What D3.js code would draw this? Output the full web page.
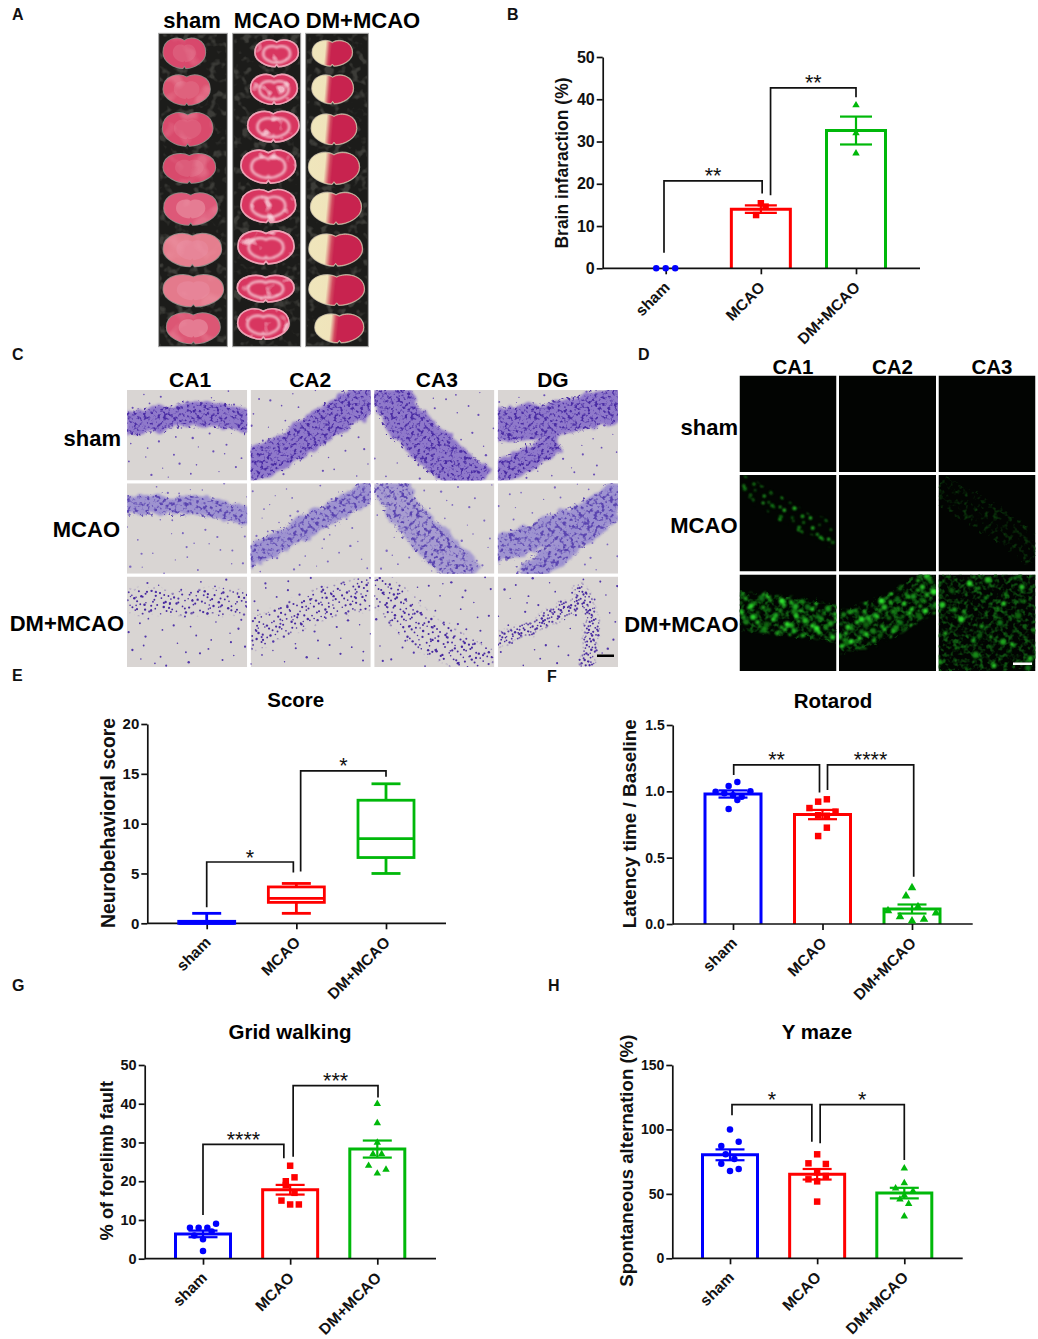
<!DOCTYPE html>
<html>
<head>
<meta charset="utf-8">
<script src="https://cdn.jsdelivr.net/npm/d3@7"></script>
<style>
	body { margin: 0; background: #fff; }
	svg { display: block; font-family: 'Liberation Sans', Arial, sans-serif; font-weight: bold; }
</style>
</head>
<body>
<div id="chart"></div>
<script>
const groups = ['sham', 'MCAO', 'DM+MCAO'];
const groupColors = ['#0000ff', '#ff0000', '#00b80a'];
const regionsHisto = ['CA1', 'CA2', 'CA3', 'DG'];
const regionsFluoro = ['CA1', 'CA2', 'CA3'];

// B - brain infarction, each group is a list of swarm rows (left to right)
const infarctMeans = [0, 14, 32.6];
const infarctSem = [0, 0.9, 3.3];
const infarctPoints = [[[0, 0, 0]], [[15.4], [12.6, 14.6]], [[38.6], [32], [27.2]]];
const infarctTicks = [0, 10, 20, 30, 40, 50];

// E - neurobehavioral score box plots
const scoreMin = [0, 1, 5];
const scoreQ1 = [0, 2.1, 6.6];
const scoreMedian = [0, 2.5, 8.5];
const scoreQ3 = [0.2, 3.65, 12.35];
const scoreMax = [1, 4, 14];
const scoreTicks = [0, 5, 10, 15, 20];

// F - rotarod
const rotarodMeans = [0.98, 0.825, 0.113];
const rotarodSem = [0.027, 0.035, 0.034];
const rotarodPoints = [
	[[1.04, 1.07], [0.997, 0.985, 0.97, 0.96, 1.0], [0.867, 0.935]],
	[[0.922, 0.94], [0.874, 0.82, 0.816, 0.847], [0.663, 0.726]],
	[[0.274], [0.211, 0.13], [0.1, 0.055, 0.023, 0.035, 0.083]],
];
const rotarodTicks = [0, 0.5, 1, 1.5];

// G - grid walking
const gridMeans = [6.4, 17.8, 28.3];
const gridSem = [0.85, 1.25, 2.2];
const gridPoints = [
	[[8, 8, 8, 9], [6, 5, 7], [2]],
	[[24], [20, 21], [19, 17], [15, 14, 14]],
	[[40], [35], [30], [27, 27], [24, 22, 23]],
];
const gridTicks = [0, 10, 20, 30, 40, 50];

// H - Y maze
const mazeMeans = [80.3, 65.2, 50.6];
const mazeSem = [4.2, 4.1, 4.1];
const mazePoints = [
	[[100], [87.2, null, 90.5], [80.7, 77], [73.4, 67.8, 69.3]],
	[[80.7], [73.7, null, 73.2], [66.7], [61.3, 59.7, 63.9], [44]],
	[[69.8], [58.4], [54.3, 48.9, 52.2], [45.8, 42.2], [32.6]],
];
const mazeTicks = [0, 50, 100, 150];

const sliceCy = [
	[160, 270, 388, 505, 627, 750, 872, 985],
	[160, 268, 380, 500, 618, 742, 866, 972],
	[160, 268, 388, 505, 625, 750, 870, 985],
];
const sliceCx = [
	[553, 560, 563, 568, 572, 577, 580, 580],
	[830, 822, 820, 805, 805, 798, 797, 790],
	[997, 998, 1002, 1002, 1008, 1007, 1010, 1018],
];
const sliceRx = [
	[63, 70, 75, 78, 80, 87, 90, 80],
	[65, 70, 77, 82, 82, 84, 85, 77],
	[60, 62, 68, 76, 76, 80, 83, 73],
];
const sliceRy = [
	[47, 47, 52, 46, 50, 52, 50, 48],
	[42, 47, 48, 52, 52, 52, 42, 48],
	[40, 45, 48, 50, 50, 50, 48, 45],
];
const shamSliceColors = ['#d8486c', '#dc5270', '#d94a6c', '#d84a6c', '#dd5878', '#e57e8e', '#e47a8c', '#dc5674'];
const stripEdges = [[476, 682], [698, 902], [917, 1105]];

// C - cell layers in each histology tile, local 0-120 x 0-90, [thickness, points]
const histoBands = [
	[[[23, [[-5, 34], [30, 30], [60, 23], [90, 24], [125, 32]]]],
		[[32, [[-5, 78], [30, 62], [60, 44], [90, 24], [125, 2]]]],
		[[40, [[15, -5], [25, 25], [50, 50], [80, 76], [105, 95]]]],
		[[34, [[-5, 36], [40, 32], [80, 24], [125, 12]]], [22, [[-5, 84], [30, 70], [60, 50]]]]],
	[[[18, [[-5, 22], [40, 21], [80, 22], [125, 34]]]],
		[[21, [[-5, 76], [40, 52], [80, 30], [125, 4]]]],
		[[34, [[15, -5], [30, 30], [55, 55], [85, 85], [95, 95]]]],
		[[26, [[-5, 68], [40, 52], [80, 36], [125, 10]]], [24, [[25, 95], [70, 62], [115, 25]]]]],
	[[[24, [[-5, 26], [30, 24], [60, 28], [90, 24], [125, 26]]]],
		[[30, [[-5, 62], [40, 40], [80, 24], [125, 14]]]],
		[[34, [[-5, 0], [25, 30], [50, 60], [100, 80], [115, 92]]]],
		[[13, [[-5, 66], [30, 52], [60, 38], [85, 22]]], [13, [[80, 8], [96, 40], [93, 70], [88, 95]]]]],
];
const histoHeaderShift = [3, -0.5, 2.5, -5];

// D - positive cell layers in the fluorescence tiles, local 0-97 x 0-97
const fluoroBands = [
	[[], [], []],
	[[[20, [[-5, 5], [30, 25], [60, 45], [100, 65]]]], [], [[30, [[0, 15], [40, 35], [70, 55], [100, 80]]]]],
	[[[38, [[-5, 36], [30, 40], [60, 42], [100, 50]]]], [[40, [[-5, 62], [30, 50], [65, 35], [100, 10]]]], [[95, [[-10, 48], [110, 48]]]]],
];

const width = 1038;
const height = 1339;

const svg = d3.select('#chart').append('svg').attr('width', width).attr('height', height).attr('viewBox', [0, 0, width, height]);
const defs = svg.append('defs');

// noise textures stand in for the photographs
function noiseFilter(id, freq, octaves, color, gain, offset, blur, rough) {
	const rgb = d3.rgb(color);
	const f = defs.append('filter').attr('id', id).attr('filterUnits', 'userSpaceOnUse').attr('x', 0).attr('y', 0).attr('width', width * 3).attr('height', height * 3).attr('color-interpolation-filters', 'sRGB');
	f.append('feTurbulence').attr('type', 'fractalNoise').attr('baseFrequency', freq).attr('numOctaves', octaves).attr('seed', 7).attr('result', 'noise');
	f.append('feColorMatrix').attr('in', 'noise').attr('type', 'matrix')
		.attr('values', `0 0 0 0 ${rgb.r / 255} 0 0 0 0 ${rgb.g / 255} 0 0 0 0 ${rgb.b / 255} ${gain} 0 0 0 ${offset}`).attr('result', 'tint');
	let shape = 'SourceAlpha';
	if (rough) {
		f.append('feDisplacementMap').attr('in', 'SourceAlpha').attr('in2', 'noise').attr('scale', rough).attr('xChannelSelector', 'R').attr('yChannelSelector', 'G').attr('result', 'shape');
		shape = 'shape';
	}
	f.append('feComposite').attr('in', 'tint').attr('in2', shape).attr('operator', 'in').attr('result', 'cut');
	if (blur) f.append('feGaussianBlur').attr('in', 'cut').attr('stdDeviation', blur);
}
// the band itself with a frayed, soft edge
function roughFilter(id, freq, scale, blur) {
	const f = defs.append('filter').attr('id', id).attr('filterUnits', 'userSpaceOnUse').attr('x', 0).attr('y', 0).attr('width', width * 3).attr('height', height * 3).attr('color-interpolation-filters', 'sRGB');
	f.append('feTurbulence').attr('type', 'fractalNoise').attr('baseFrequency', freq).attr('numOctaves', 2).attr('seed', 3).attr('result', 'noise');
	f.append('feDisplacementMap').attr('in', 'SourceGraphic').attr('in2', 'noise').attr('scale', scale).attr('xChannelSelector', 'R').attr('yChannelSelector', 'G').attr('result', 'moved');
	f.append('feGaussianBlur').attr('in', 'moved').attr('stdDeviation', blur);
}
noiseFilter('cellClumps', 0.3, 2, '#4a2ca4', 5, -2.5, 0.5, 14);
noiseFilter('cellClumpsPale', 0.26, 2, '#5a44b0', 5, -2.5, 0.6, 14);
noiseFilter('greenFaint', 0.2, 2, '#0f5a12', 3.5, -1.6, 0.6, 12);
noiseFilter('greenTrace', 0.2, 2, '#0b3a0c', 3.5, -1.8, 0.6, 12);
noiseFilter('sliceSwirl', 0.024, 2, '#fbdfe6', 6, -3.55, 1.6);
noiseFilter('slicePale', 0.016, 2, '#f0a0b0', 5, -2.6, 2);
noiseFilter('stripGrain', 0.04, 2, '#3c3c38', 5, -2.6, 1);
roughFilter('frayed', 0.1, 10, 0.9);
defs.append('filter').attr('id', 'soft').append('feGaussianBlur').attr('stdDeviation', 1.6);
defs.append('filter').attr('id', 'swirlBlur').append('feGaussianBlur').attr('stdDeviation', 3);
defs.append('filter').attr('id', 'glow').attr('x', -0.1).attr('y', -0.1).attr('width', 1.2).attr('height', 1.2).append('feGaussianBlur').attr('stdDeviation', 1);

// cream infarct on the left, red tissue on the right
const halfGrad = defs.append('linearGradient').attr('id', 'halfSlice').attr('x1', 0).attr('x2', 1).attr('y1', 0).attr('y2', 0.06);
[[0, '#efe6bc'], [0.34, '#f0e4bb'], [0.44, '#d24a60'], [0.5, '#c8234f'], [1, '#c8234f']].forEach((s) => {
	halfGrad.append('stop').attr('offset', s[0]).attr('stop-color', s[1]);
});

const labelFont = 22;

// low discrepancy sequence, only used to scatter the texture dots in the photo tiles
function halton(i, base) {
	let f = 1;
	let r = 0;
	while (i > 0) {
		f /= base;
		r += f * (i % base);
		i = Math.floor(i / base);
	}
	return r;
}

function dotField(g, n, start, w, h, rMin, rMax, fill) {
	d3.range(start, start + n).forEach((i) => {
		g.append('circle')
			.attr('cx', halton(i, 2) * w)
			.attr('cy', halton(i, 3) * h)
			.attr('r', rMin + (rMax - rMin) * halton(i, 5))
			.attr('fill', typeof fill === 'function' ? fill(i) : fill);
	});
}

function bandMask(id, bands, w, h) {
	const m = defs.append('mask').attr('id', id).attr('maskUnits', 'userSpaceOnUse').attr('x', 0).attr('y', 0).attr('width', w).attr('height', h);
	drawBands(m, bands, '#fff', 1, 'url(#frayed)');
}

function drawHeader(text, x, y, size) {
	svg.append('text').attr('x', x).attr('y', y).attr('text-anchor', 'middle').attr('font-size', size).attr('fill', '#000').text(text);
}

function drawLetter(text, x, y) {
	svg.append('text').attr('x', x).attr('y', y).attr('font-size', 16).attr('fill', '#111').text(text);
}

function brainPath(cx, cy, rx, ry) {
	const p = d3.path();
	p.moveTo(cx, cy - 0.8 * ry);
	p.bezierCurveTo(cx + 0.3 * rx, cy - 1.1 * ry, cx + rx, cy - 0.95 * ry, cx + rx, cy - 0.05 * ry);
	p.bezierCurveTo(cx + rx, cy + 0.55 * ry, cx + 0.45 * rx, cy + 0.95 * ry, cx + 0.08 * rx, cy + 0.95 * ry);
	p.lineTo(cx, cy + 0.8 * ry);
	p.lineTo(cx - 0.08 * rx, cy + 0.95 * ry);
	p.bezierCurveTo(cx - 0.45 * rx, cy + 0.95 * ry, cx - rx, cy + 0.55 * ry, cx - rx, cy - 0.05 * ry);
	p.bezierCurveTo(cx - rx, cy - 0.95 * ry, cx - 0.3 * rx, cy - 1.1 * ry, cx, cy - 0.8 * ry);
	p.closePath();
	return p.toString();
}

// panel A, drawn in crop units
function drawStrips() {
	const g = svg.append('g').attr('transform', 'scale(0.33333)');
	stripEdges.forEach((edge, s) => {
		g.append('rect').attr('x', edge[0]).attr('y', 100).attr('width', edge[1] - edge[0]).attr('height', 940)
			.attr('fill', '#1c1c1a').attr('stroke', '#a8a8a8').attr('stroke-width', 3);
		g.append('rect').attr('x', edge[0] + 3).attr('y', 103).attr('width', edge[1] - edge[0] - 6).attr('height', 934).attr('fill', '#000').attr('filter', 'url(#stripGrain)');
		sliceCy[s].forEach((cy, i) => {
			const cx = sliceCx[s][i];
			const rx = sliceRx[s][i];
			const ry = sliceRy[s][i];
			const d = brainPath(cx, cy, rx, ry);
			const tissue = g.append('g');
			tissue.append('path').attr('d', d).attr('fill', '#8f8a86').attr('stroke', '#8f8a86').attr('stroke-width', 5).attr('filter', 'url(#soft)');
			if (s === 0) {
				tissue.append('path').attr('d', d).attr('fill', shamSliceColors[i]);
				tissue.append('path').attr('d', brainPath(cx, cy, rx * 0.55, ry * 0.6)).attr('fill', '#e8889c').attr('opacity', i > 3 ? 0.75 : 0.3).attr('filter', 'url(#soft)');
				tissue.append('path').attr('d', d).attr('fill', '#000').attr('opacity', 0.35).attr('filter', 'url(#slicePale)');
			} else if (s === 1) {
				tissue.append('path').attr('d', d).attr('fill', '#d83660');
				tissue.append('path').attr('d', brainPath(cx, cy + 3, rx * 0.62, ry * 0.62)).attr('fill', 'none').attr('stroke', '#f8d6de')
					.attr('stroke-width', 8).attr('opacity', 0.8).attr('filter', 'url(#swirlBlur)');
				tissue.append('path').attr('d', d).attr('fill', '#000').attr('opacity', 0.75).attr('filter', 'url(#sliceSwirl)');
				tissue.append('path').attr('d', d).attr('fill', 'none').attr('stroke', '#eea0b4').attr('stroke-width', 5);
			} else {
				tissue.append('path').attr('d', d).attr('fill', 'url(#halfSlice)').attr('stroke', '#e6d8b0').attr('stroke-width', 2);
			}
		});
	});
}

const bandLine = d3.line().curve(d3.curveBasis);

function drawBands(g, bands, color, opacity, filter) {
	bands.forEach((band) => {
		g.append('path').attr('d', bandLine(band[1])).attr('fill', 'none').attr('stroke', color)
			.attr('stroke-width', band[0]).attr('stroke-linecap', 'butt').attr('opacity', opacity).attr('filter', filter || null);
	});
}

function drawHisto() {
	const x = d3.scaleBand().domain(regionsHisto).range([127, 618]).paddingInner(0.028);
	const y = d3.scaleBand().domain(groups).range([390, 667]).paddingInner(0.03);
	groups.forEach((group, r) => {
		regionsHisto.forEach((region, c) => {
			const tile = r * 4 + c;
			const clipId = `histo-${r}-${c}`;
			defs.append('clipPath').attr('id', clipId).append('rect').attr('width', x.bandwidth()).attr('height', y.bandwidth());
			const wrap = svg.append('g').attr('transform', `translate(${x(region)},${y(group)})`).attr('clip-path', `url(#${clipId})`);
			const g = wrap.append('g').attr('transform', `scale(${x.bandwidth() / 120},${y.bandwidth() / 90})`);
			g.append('rect').attr('width', 120).attr('height', 90).attr('fill', '#d9d5d3');
			const bands = histoBands[r][c];
			if (r === 2) {
				dotField(g, 50, 11 + tile * 53, 120, 90, 0.7, 1.2, '#5236aa');
				const maskId = `histoMask-${c}`;
				bandMask(maskId, bands, 120, 90);
				dotField(g.append('g').attr('mask', `url(#${maskId})`), c === 3 ? 900 : 420, 700 + tile * 211, 120, 90, 0.75, 1.25, '#47299f');
			} else {
				dotField(g, 42, 11 + tile * 53, 120, 90, 0.6, 1.2, r === 0 ? '#6a4fb6' : '#7d68c0');
				if (r === 0) {
					drawBands(g, bands, '#8c74ca', 0.95, 'url(#frayed)');
					drawBands(g, bands, '#000', 1, 'url(#cellClumps)');
				} else {
					drawBands(g, bands, '#9a8ed0', c === 2 ? 0.8 : 0.92, 'url(#frayed)');
					drawBands(g, bands, '#000', 1, 'url(#cellClumpsPale)');
				}
			}
		});
	});
	svg.append('rect').attr('x', 597).attr('y', 654.5).attr('width', 17).attr('height', 2.5).attr('fill', '#000');
	regionsHisto.forEach((region, c) => drawHeader(region, x(region) + x.bandwidth() / 2 + histoHeaderShift[c], 387, 21));
}

function drawFluoro() {
	const x = d3.scaleBand().domain(regionsFluoro).range([739.5, 1035.5]).paddingInner(0.025);
	const y = d3.scaleBand().domain(groups).range([375.5, 671]).paddingInner(0.03);
	const size = x.bandwidth();
	const green = (i) => d3.interpolateRgb('#0a5c0e', '#2fe62f')(halton(i, 7));
	groups.forEach((group, r) => {
		regionsFluoro.forEach((region, c) => {
			const tile = r * 3 + c;
			const clipId = `fluoro-${r}-${c}`;
			defs.append('clipPath').attr('id', clipId).append('rect').attr('width', size).attr('height', y.bandwidth());
			const g = svg.append('g').attr('transform', `translate(${x(region)},${y(group)})`).attr('clip-path', `url(#${clipId})`);
			g.append('rect').attr('width', size).attr('height', y.bandwidth()).attr('fill', '#020402');
			const bands = fluoroBands[r][c];
			if (r === 2) {
				drawBands(g, bands, '#000', 1, 'url(#greenFaint)');
				const maskId = `fluoroMask-${c}`;
				bandMask(maskId, bands, size, y.bandwidth());
				const cells = g.append('g').attr('mask', `url(#${maskId})`).append('g').attr('filter', 'url(#glow)');
				if (c === 2) {
					dotField(cells, 34, 301 + tile * 97, size, y.bandwidth(), 1.3, 3.4, green);
				} else {
					dotField(cells, 165, 301 + tile * 97, size, y.bandwidth(), 1.4, 3.2, green);
				}
			} else if (r === 1 && c === 0) {
				const maskId = 'fluoroMask-mcao';
				bandMask(maskId, bands, size, y.bandwidth());
				const cells = g.append('g').attr('mask', `url(#${maskId})`).append('g').attr('filter', 'url(#glow)');
				dotField(cells, 150, 301 + tile * 97, size, y.bandwidth(), 1, 2, green);
			} else {
				drawBands(g, bands, '#000', 1, 'url(#greenTrace)');
			}
		});
	});
	svg.append('rect').attr('x', 1013).attr('y', 662.5).attr('width', 19).attr('height', 2.5).attr('fill', '#fff');
	regionsFluoro.forEach((region) => drawHeader(region, x(region) + size / 2 + 5, 374, 20.5));
}

function drawAxes(p, y) {
	const x = d3.scalePoint().domain(groups).range(p.centers);
	const yAxis = svg.append('g').attr('transform', `translate(${p.x0},0)`)
		.call(d3.axisLeft(y).tickValues(p.ticks).tickSize(6).tickSizeOuter(0).tickPadding(2).tickFormat(p.format || d3.format('d')));
	yAxis.selectAll('text').attr('font-size', p.tickFont).attr('fill', '#111');
	const xAxis = svg.append('g').attr('transform', `translate(0,${y(0)})`)
		.call(d3.axisBottom(x).tickSize(6).tickSizeOuter(0));
	xAxis.select('.domain').attr('d', `M${p.x0},0H${p.x1}`);
	xAxis.selectAll('text').attr('font-size', 15.5).attr('fill', '#111').attr('text-anchor', 'end')
		.attr('x', 0).attr('y', 0).attr('dy', 0).attr('transform', 'translate(4.5,20) rotate(-45)');
	svg.selectAll('.domain, .tick line').attr('stroke', '#111').attr('stroke-width', 1.7);

	svg.append('text').attr('transform', `translate(${p.titleX},${p.titleY}) rotate(-90)`).attr('text-anchor', 'middle')
		.attr('font-size', p.titleFont).attr('fill', '#111').text(p.yTitle);
	if (p.title) drawHeader(p.title, p.titleCx, p.titleBase, 20.5);
}

function drawBrackets(p, y) {
	const x = d3.scalePoint().domain(groups).range(p.centers);
	p.brackets.forEach((b) => {
		const xa = x(groups[b.from]) + b.dxFrom;
		const xb = x(groups[b.to]) + b.dxTo;
		const path = d3.path();
		path.moveTo(xa, y(b.endFrom));
		path.lineTo(xa, y(b.top));
		path.lineTo(xb, y(b.top));
		path.lineTo(xb, y(b.endTo));
		svg.append('path').attr('d', path.toString()).attr('fill', 'none').attr('stroke', '#111').attr('stroke-width', 1.7);
		svg.append('text').attr('x', (xa + xb) / 2).attr('y', y(b.top) + 2.5).attr('text-anchor', 'middle')
			.attr('font-size', 21.5).attr('font-weight', 'normal').attr('fill', '#111').text(b.label);
	});
}

function drawBarPanel(p) {
	const x = d3.scalePoint().domain(groups).range(p.centers);
	const y = d3.scaleLinear().domain([0, p.ticks[p.ticks.length - 1]]).range([p.yBottom, p.yTop]);
	const symbols = [d3.symbolCircle, d3.symbolSquare, d3.symbolTriangle];
	const barWidth = p.barWidth;

	// bars are open at the bottom, the axis closes them
	svg.append('g').selectAll('path').data(groups.filter((d, i) => p.means[i] > 0)).join('path')
		.attr('d', (d) => {
			const m = p.means[groups.indexOf(d)];
			const path = d3.path();
			path.moveTo(x(d) - barWidth / 2, y(0));
			path.lineTo(x(d) - barWidth / 2, y(m));
			path.lineTo(x(d) + barWidth / 2, y(m));
			path.lineTo(x(d) + barWidth / 2, y(0));
			return path.toString();
		})
		.attr('fill', 'none')
		.attr('stroke', (d) => groupColors[groups.indexOf(d)])
		.attr('stroke-width', 3);

	drawAxes(p, y);

	groups.forEach((group, i) => {
		const color = groupColors[i];
		const g = svg.append('g').attr('fill', color);
		const symbolPath = d3.symbol().type(symbols[i]).size(p.symbolSizes[i]);
		p.points[i].forEach((row) => {
			row.forEach((v, k) => {
				if (v === null) return;
				const off = (k - (row.length - 1) / 2) * p.gaps[i];
				g.append('path').attr('d', symbolPath()).attr('transform', `translate(${x(group) + off},${y(v)})`);
			});
		});
		if (p.sem[i] > 0) {
			const e = svg.append('g').attr('stroke', color).attr('stroke-width', 2.2);
			e.append('line').attr('x1', x(group)).attr('x2', x(group)).attr('y1', y(p.means[i] - p.sem[i])).attr('y2', y(p.means[i] + p.sem[i]));
			[p.means[i] - p.sem[i], p.means[i] + p.sem[i]].forEach((v) => {
				e.append('line').attr('x1', x(group) - p.capWidth / 2).attr('x2', x(group) + p.capWidth / 2).attr('y1', y(v)).attr('y2', y(v));
			});
		}
	});
	drawBrackets(p, y);
}

function drawBoxPanel(p) {
	const x = d3.scalePoint().domain(groups).range(p.centers);
	const y = d3.scaleLinear().domain([0, p.ticks[p.ticks.length - 1]]).range([p.yBottom, p.yTop]);
	drawAxes(p, y);
	groups.forEach((group, i) => {
		const cx = x(group);
		const g = svg.append('g').attr('stroke', groupColors[i]).attr('stroke-width', 2.8).attr('fill', 'none');
		g.append('line').attr('x1', cx).attr('x2', cx).attr('y1', y(scoreMin[i])).attr('y2', y(scoreQ1[i]));
		g.append('line').attr('x1', cx).attr('x2', cx).attr('y1', y(scoreMax[i])).attr('y2', y(scoreQ3[i]));
		[scoreMin[i], scoreMax[i]].forEach((v) => {
			if (v === 0) return;
			g.append('line').attr('x1', cx - p.capWidth / 2).attr('x2', cx + p.capWidth / 2).attr('y1', y(v)).attr('y2', y(v));
		});
		g.append('rect').attr('x', cx - p.barWidth / 2).attr('y', y(scoreQ3[i])).attr('width', p.barWidth)
			.attr('height', y(scoreQ1[i]) - y(scoreQ3[i]));
		g.append('line').attr('x1', cx - p.barWidth / 2).attr('x2', cx + p.barWidth / 2).attr('y1', y(scoreMedian[i])).attr('y2', y(scoreMedian[i]));
	});
	drawBrackets(p, y);
}

drawStrips();
drawHisto();
drawFluoro();

drawHeader('sham', 192, 27.5, 22);
drawHeader('MCAO', 267, 27.5, 21.7);
drawHeader('DM+MCAO', 363, 27.5, labelFont);

[['sham', 121, 446], ['MCAO', 120, 537], ['DM+MCAO', 124, 631]].forEach((d) => {
	svg.append('text').attr('x', d[1]).attr('y', d[2]).attr('text-anchor', 'end').attr('font-size', labelFont).text(d[0]);
});
[['sham', 738, 435], ['MCAO', 737.5, 533], ['DM+MCAO', 738.5, 632]].forEach((d) => {
	svg.append('text').attr('x', d[1]).attr('y', d[2]).attr('text-anchor', 'end').attr('font-size', labelFont).text(d[0]);
});

[['A', 12, 20], ['B', 507, 20], ['C', 12, 360], ['D', 638, 360], ['E', 12, 681], ['F', 547, 682], ['G', 12, 991], ['H', 548, 991]].forEach((d) => drawLetter(d[0], d[1], d[2]));

drawBarPanel({
	x0: 602.7, x1: 920, yBottom: 268.3, yTop: 57, centers: [665.7, 856], ticks: infarctTicks, tickFont: 16,
	means: infarctMeans, sem: infarctSem, points: infarctPoints, barWidth: 59, capWidth: 32,
	symbolSizes: [33, 42, 24], gaps: [9.5, 9.5, 9.5],
	yTitle: 'Brain infaraction (%)', titleX: 568, titleY: 163, titleFont: 17.5,
	brackets: [
		{ from: 0, to: 1, top: 20.7, endFrom: 3.7, endTo: 17.7, dxFrom: -1.7, dxTo: 1.3, label: '**' },
		{ from: 1, to: 2, top: 42.7, endFrom: 17.3, endTo: 40.5, dxFrom: 9.7, dxTo: 0, label: '**' },
	],
});

drawBoxPanel({
	x0: 147.3, x1: 446, yBottom: 923.3, yTop: 724, centers: [206.7, 386], ticks: scoreTicks, tickFont: 15,
	barWidth: 56, capWidth: 29,
	yTitle: 'Neurobehavioral score', titleX: 115, titleY: 823, titleFont: 19.4,
	title: 'Score', titleCx: 295.7, titleBase: 707,
	brackets: [
		{ from: 0, to: 1, top: 6.15, endFrom: 1.6, endTo: 5.1, dxFrom: 0, dxTo: -3, label: '*' },
		{ from: 1, to: 2, top: 15.3, endFrom: 5.2, endTo: 14.7, dxFrom: 4.3, dxTo: 0, label: '*' },
	],
});

drawBarPanel({
	x0: 672.7, x1: 972.7, yBottom: 924, yTop: 725, centers: [733, 912], ticks: rotarodTicks, tickFont: 14,
	format: d3.format('.1f'),
	means: rotarodMeans, sem: rotarodSem, points: rotarodPoints, barWidth: 56, capWidth: 29,
	symbolSizes: [33, 42, 32], gaps: [8.7, 8.7, 12],
	yTitle: 'Latency time / Baseline', titleX: 636, titleY: 823.7, titleFont: 18.9,
	title: 'Rotarod', titleCx: 833, titleBase: 708,
	brackets: [
		{ from: 0, to: 1, top: 1.2, endFrom: 1.123, endTo: 0.992, dxFrom: 0.7, dxTo: -3, label: '**' },
		{ from: 1, to: 2, top: 1.2, endFrom: 1.01, endTo: 0.357, dxFrom: 5, dxTo: 1.7, label: '****' },
	],
});

drawBarPanel({
	x0: 144.7, x1: 436, yBottom: 1258.7, yTop: 1065, centers: [203, 377.3], ticks: gridTicks, tickFont: 14.5,
	means: gridMeans, sem: gridSem, points: gridPoints, barWidth: 55, capWidth: 29,
	symbolSizes: [33, 42, 24], gaps: [8.7, 8.7, 8.7],
	yTitle: '% of forelimb fault', titleX: 112.7, titleY: 1160.7, titleFont: 18.3,
	title: 'Grid walking', titleCx: 290, titleBase: 1039,
	brackets: [
		{ from: 0, to: 1, top: 29.5, endFrom: 11.3, endTo: 25.9, dxFrom: 0, dxTo: -6.3, label: '****' },
		{ from: 1, to: 2, top: 44.7, endFrom: 26.3, endTo: 41.6, dxFrom: 3, dxTo: 0.7, label: '***' },
	],
});

drawBarPanel({
	x0: 672.3, x1: 962.7, yBottom: 1258.3, yTop: 1065, centers: [730, 904.3], ticks: mazeTicks, tickFont: 14,
	means: mazeMeans, sem: mazeSem, points: mazePoints, barWidth: 55, capWidth: 29,
	symbolSizes: [33, 42, 24], gaps: [8.7, 8.7, 8.7],
	yTitle: 'Spontaneous alternation (%)', titleX: 633, titleY: 1160.7, titleFont: 18.6,
	title: 'Y maze', titleCx: 817, titleBase: 1039,
	brackets: [
		{ from: 0, to: 1, top: 119.2, endFrom: 111, endTo: 90.5, dxFrom: 2, dxTo: -5.3, label: '*' },
		{ from: 1, to: 2, top: 119.2, endFrom: 89.2, endTo: 76.3, dxFrom: 3, dxTo: 0, label: '*' },
	],
});
</script>
</body>
</html>
